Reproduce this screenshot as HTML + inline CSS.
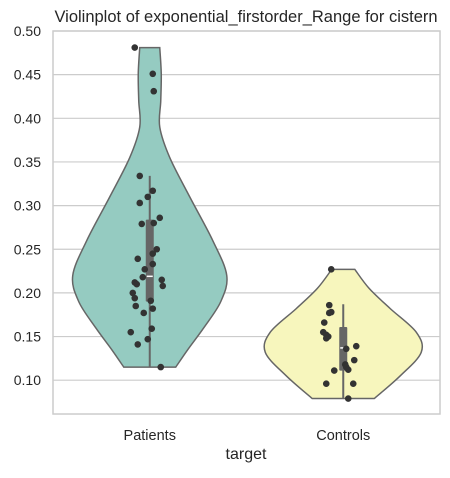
<!DOCTYPE html>
<html><head><meta charset="utf-8"><style>
body{margin:0;background:#fff;font-family:"Liberation Sans",sans-serif;}
svg text{font-family:"Liberation Sans",sans-serif;fill:#262626;}
</style></head><body>
<svg id="chart" width="450" height="473">
<text x="246" y="22" font-size="16.5" text-anchor="middle">Violinplot of exponential_firstorder_Range for cistern</text>
<g id="grid"></g><g id="violins"></g><g id="points"></g>
<rect x="53" y="31" width="387" height="383" fill="none" stroke="#cccccc" stroke-width="1.5"/>
<text x="246" y="459" font-size="16" text-anchor="middle">target</text>
</svg>
<script>
const categories=["Patients","Controls"];
const yTicks=[0.10,0.15,0.20,0.25,0.30,0.35,0.40,0.45,0.50];
const patientsValues=[0.481,0.451,0.431,0.334,0.317,0.310,0.303,0.286,0.279,0.280,0.250,0.245,0.239,0.233,0.227,0.218,0.215,0.212,0.210,0.208,0.200,0.194,0.191,0.185,0.182,0.177,0.159,0.155,0.147,0.141,0.115];
const patientsJitter=[-15,3,4,-10,3,-2,-10,10,-8,4,7,3,-12,3,-5,-7,12,-15,-13,13,-17,-15,1,-14,3,-6,2,-19,-2,-12,11];
const controlsValues=[0.227,0.186,0.178,0.177,0.166,0.155,0.152,0.150,0.148,0.139,0.136,0.123,0.118,0.115,0.112,0.111,0.096,0.096,0.079];
const controlsJitter=[-12,-14,-12,-14,-19,-20,-17,-15,-17,13,3,11,2,3,5,-9,-17,10,5];
const patientsShapeV=[0.481,0.451,0.42,0.39,0.355,0.31,0.26,0.22,0.19,0.16,0.135,0.115];
const patientsShapeW=[10,11.5,11,10,20,40,63,77,71,54,38,26];
const controlsShapeV=[0.227,0.205,0.182,0.155,0.132,0.105,0.079];
const controlsShapeW=[11.5,26,47,73,78,57,31];
const patientsBox={lo:0.115,q1:0.190,med:0.219,q3:0.284,hi:0.334};
const controlsBox={lo:0.079,q1:0.111,med:0.137,q3:0.161,hi:0.187};
const NS="http://www.w3.org/2000/svg";
const L=53,R=440;
function y(v){return 31+(0.5-v)*873;}
function x(i){return L+(R-L)*(i+0.5)/categories.length;}
function mk(tag,attrs,parent){const e=document.createElementNS(NS,tag);for(const k in attrs)e.setAttribute(k,attrs[k]);parent.appendChild(e);return e;}
const svg=document.getElementById('chart'),grid=document.getElementById('grid'),vg=document.getElementById('violins'),pg=document.getElementById('points');
yTicks.forEach(t=>{
 const ln=mk('line',{x1:L,x2:R,y1:y(t),y2:y(t),stroke:'#cccccc','stroke-width':1.2},grid);
 
 
 const tx=mk('text',{x:L-12,y:y(t)+5,'font-size':14,'text-anchor':'end'},grid);
 tx.textContent=t.toFixed(2);
 
 
});
categories.forEach((c,i)=>{
 const tx=mk('text',{x:x(i),y:440,'font-size':14.5,'text-anchor':'middle'},svg);
 tx.textContent=c;
 
 
});
function violin(i,sv,sw,fill,box,vals,jit,name){
 const cx=x(i);
 const ptsR=sv.map((v,k)=>[cx+sw[k],y(v)]),ptsL=sv.map((v,k)=>[cx-sw[k],y(v)]).reverse();
 function side(p){let s='';for(let k=0;k<p.length-1;k++){const p0=p[Math.max(k-1,0)],p1=p[k],p2=p[k+1],p3=p[Math.min(k+2,p.length-1)];
  s+=` C${p1[0]+(p2[0]-p0[0])/6},${p1[1]+(p2[1]-p0[1])/6} ${p2[0]-(p3[0]-p1[0])/6},${p2[1]-(p3[1]-p1[1])/6} ${p2[0]},${p2[1]}`;}return s;}
 const d='M'+ptsR[0].join(',')+side(ptsR)+' L'+ptsL[0].join(',')+side(ptsL)+'Z';
 const p=mk('path',{d:d,fill:fill,stroke:'#666666','stroke-width':1.5},vg);
 
 
 const w=mk('line',{x1:cx,x2:cx,y1:y(box.hi),y2:y(box.lo),stroke:'#666666','stroke-width':2},vg);
 
 
 const b=mk('rect',{x:cx-4,y:y(box.q3),width:8,height:y(box.q1)-y(box.q3),fill:'#666666',rx:1},vg);
 
 
 const m=mk('line',{x1:cx-3,x2:cx+3,y1:y(box.med),y2:y(box.med),stroke:'#ffffff','stroke-width':1.5},vg);
 
 
 vals.forEach((v,k)=>{
  const c=mk('circle',{cx:cx+jit[k],cy:y(v),r:3.3,fill:'#333333'},pg);
  
  
 });
}
violin(0,patientsShapeV,patientsShapeW,'#95cbc1',patientsBox,patientsValues,patientsJitter,'patients');
violin(1,controlsShapeV,controlsShapeW,'#f7f6bd',controlsBox,controlsValues,controlsJitter,'controls');
</script>
</body></html>
